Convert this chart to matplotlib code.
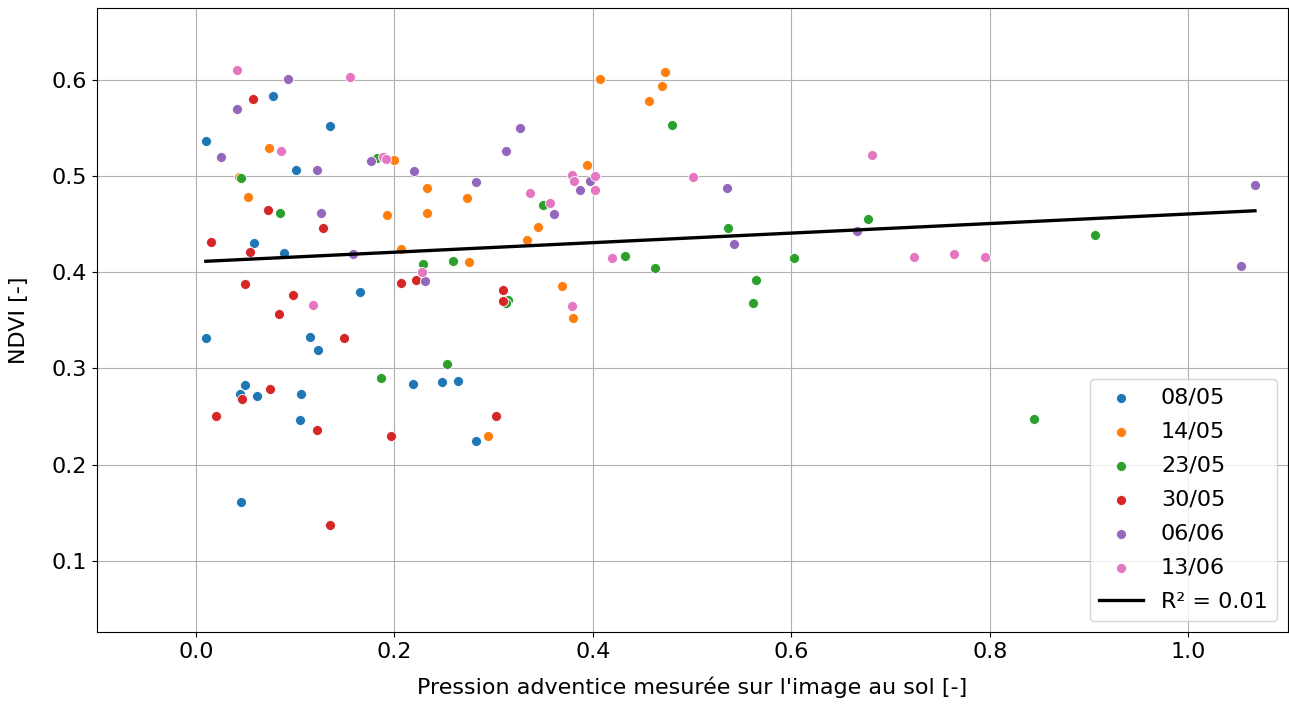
import numpy as np
import matplotlib
matplotlib.use("Agg")
import matplotlib.pyplot as plt

# Pression adventice (image au sol) et NDVI par date d'acquisition
dates = ['08/05', '14/05', '23/05', '30/05', '06/06', '13/06']
couleurs = ['#1f77b4', '#ff7f0e', '#2ca02c', '#d62728', '#9467bd', '#e377c2']

x_0805 = [0.010, 0.010, 0.078, 0.135, 0.101, 0.059, 0.089, 0.165, 0.115, 0.123,
          0.049, 0.044, 0.062, 0.106, 0.105, 0.045, 0.219, 0.248, 0.264, 0.282]
y_0805 = [0.536, 0.332, 0.583, 0.552, 0.506, 0.430, 0.420, 0.379, 0.333, 0.319,
          0.283, 0.273, 0.271, 0.273, 0.246, 0.161, 0.284, 0.286, 0.287, 0.224]

x_1405 = [0.074, 0.043, 0.052, 0.200, 0.193, 0.233, 0.233, 0.273, 0.407, 0.473,
          0.470, 0.456, 0.394, 0.334, 0.345, 0.207, 0.275, 0.369, 0.380, 0.294]
y_1405 = [0.529, 0.499, 0.478, 0.517, 0.460, 0.488, 0.462, 0.477, 0.601, 0.608,
          0.594, 0.578, 0.511, 0.434, 0.447, 0.424, 0.411, 0.386, 0.352, 0.230]

x_2305 = [0.045, 0.085, 0.182, 0.480, 0.350, 0.229, 0.259, 0.314, 0.312, 0.432,
          0.463, 0.253, 0.186, 0.536, 0.603, 0.564, 0.561, 0.677, 0.906, 0.844]
y_2305 = [0.498, 0.462, 0.519, 0.553, 0.470, 0.409, 0.412, 0.371, 0.368, 0.417,
          0.404, 0.305, 0.290, 0.446, 0.415, 0.392, 0.368, 0.455, 0.439, 0.247]

x_3005 = [0.058, 0.073, 0.128, 0.015, 0.054, 0.049, 0.098, 0.084, 0.149, 0.207,
          0.075, 0.046, 0.020, 0.122, 0.197, 0.135, 0.222, 0.309, 0.309, 0.302]
y_3005 = [0.580, 0.465, 0.446, 0.431, 0.421, 0.388, 0.376, 0.357, 0.332, 0.389,
          0.279, 0.268, 0.251, 0.236, 0.230, 0.137, 0.392, 0.382, 0.370, 0.251]

x_0606 = [0.041, 0.093, 0.025, 0.122, 0.176, 0.126, 0.220, 0.327, 0.312, 0.282,
          0.397, 0.387, 0.361, 0.231, 0.158, 0.535, 0.542, 0.666, 1.053, 1.067]
y_0606 = [0.570, 0.601, 0.520, 0.506, 0.516, 0.462, 0.505, 0.550, 0.526, 0.494,
          0.495, 0.485, 0.461, 0.391, 0.419, 0.488, 0.429, 0.443, 0.406, 0.491]

x_1306 = [0.041, 0.155, 0.086, 0.188, 0.191, 0.118, 0.337, 0.357, 0.379, 0.381,
          0.402, 0.402, 0.501, 0.228, 0.419, 0.379, 0.681, 0.723, 0.764, 0.795]
y_1306 = [0.610, 0.603, 0.526, 0.520, 0.518, 0.366, 0.482, 0.472, 0.501, 0.495,
          0.500, 0.486, 0.499, 0.400, 0.415, 0.365, 0.522, 0.416, 0.419, 0.416]

xs = [x_0805, x_1405, x_2305, x_3005, x_0606, x_1306]
ys = [y_0805, y_1405, y_2305, y_3005, y_0606, y_1306]

plt.rcParams['font.size'] = 16

fig, ax = plt.subplots(figsize=(12.89, 7.06), dpi=100)
fig.subplots_adjust(left=0.075, right=0.999, top=0.989, bottom=0.105)

for x, y, d, c in zip(xs, ys, dates, couleurs):
    ax.scatter(x, y, s=52, color=c, edgecolor='white', linewidth=0.6, label=d, zorder=3)

# régression linéaire sur l'ensemble des points
x_all = np.concatenate([np.array(v) for v in xs])
y_all = np.concatenate([np.array(v) for v in ys])
pente, ordo = np.polyfit(x_all, y_all, 1)
y_pred = pente * x_all + ordo
r2 = 1 - np.sum((y_all - y_pred) ** 2) / np.sum((y_all - y_all.mean()) ** 2)
xl = np.array([x_all.min(), x_all.max()])
ax.plot(xl, pente * xl + ordo, color='black', linewidth=2.4, label=f'R² = {r2:.2f}', zorder=4)

ax.set_xlim(-0.1, 1.1)
ax.set_ylim(0.026, 0.675)
ax.set_xticks([0.0, 0.2, 0.4, 0.6, 0.8, 1.0])
ax.set_yticks([0.1, 0.2, 0.3, 0.4, 0.5, 0.6])
ax.grid(True, color='#b0b0b0', linewidth=0.8, zorder=0)
ax.set_axisbelow(True)
ax.set_xlabel("Pression adventice mesurée sur l'image au sol [-]", labelpad=11)
ax.set_ylabel('NDVI [-]', labelpad=16)
ax.legend(loc='lower right', fontsize=16, labelspacing=0.63)

plt.savefig('out.png', dpi=100)
plt.close()
